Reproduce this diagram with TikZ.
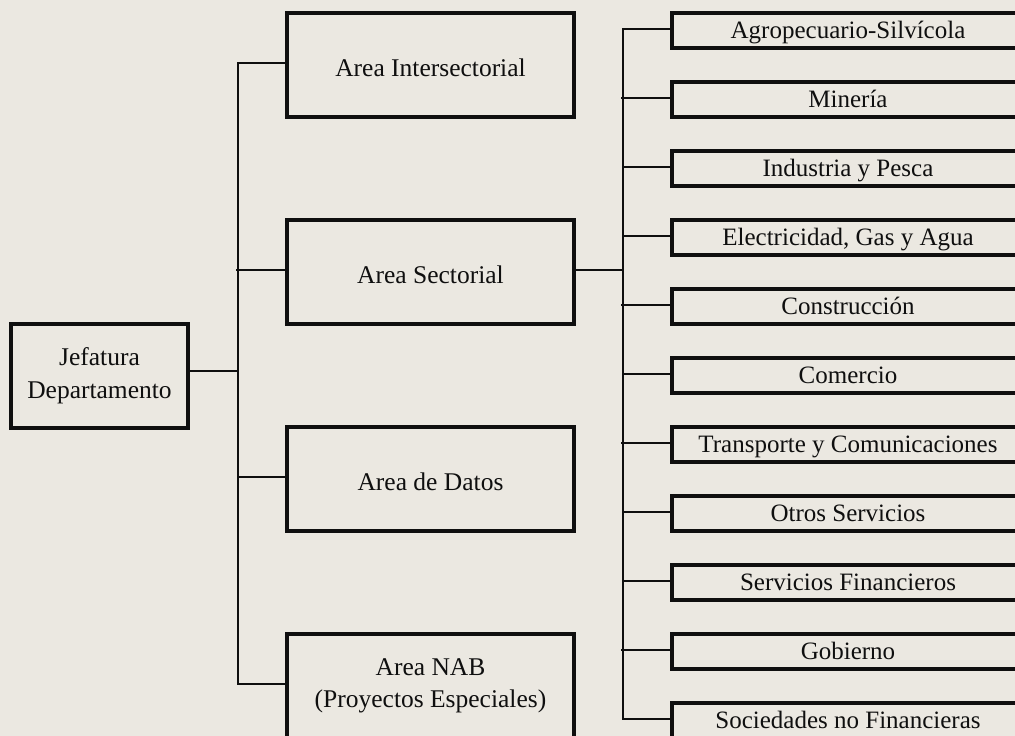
\documentclass[tikz,border=0pt]{standalone}
\usepackage{fontspec}
\setmainfont{Liberation Serif}
\definecolor{bg}{RGB}{235,232,225}
\definecolor{ink}{RGB}{15,15,15}
\begin{document}
\begin{tikzpicture}[x=1pt,y=-1pt,
  box/.style={draw=ink, line width=3.1pt, inner sep=0pt, text=ink, align=center},
  midbox/.style={box, minimum width=287pt, minimum height=104pt, font=\fontsize{25.5}{32}\selectfont},
  oneline/.style={text height=22pt, text depth=0pt},
  subbox/.style={box, minimum width=352pt, minimum height=35pt, font=\fontsize{25}{30}\selectfont, text height=16pt, text depth=0pt},
  conn/.style={draw=ink, line width=2pt}]
\useasboundingbox (0,0) rectangle (1015,736);
\fill[bg] (0,0) rectangle (1015,736);
\clip (0,0) rectangle (1015,736);

% bus coordinates
\coordinate (LB) at (238,0);
\coordinate (LBs) at (236,0);
\coordinate (RB) at (623,0);
\coordinate (RBs) at (621,0);

% left box
\node[midbox, minimum width=177pt, font=\fontsize{25.5}{33}\selectfont] (J) at (99.5,376) {Jefatura\\Departamento};

% middle boxes
\node[midbox, oneline] (I) at (430.5,65) {Area Intersectorial};
\node[midbox, oneline] (S) at (430.5,272) {Area Sectorial};
\node[midbox, oneline] (D) at (430.5,479) {Area de Datos};
\node[midbox] (N) at (430.5,686) {Area NAB\\(Proyectos Especiales)};

% right boxes
\foreach \t [count=\i] in {Agropecuario-Silvícola, Minería, Industria y Pesca, {Electricidad, Gas y Agua}, Construcción, Comercio, Transporte y Comunicaciones, Otros Servicios, Servicios Financieros, Gobierno, Sociedades no Financieras}{
  \node[subbox] (R\i) at (848,{30.5+69*(\i-1)}) {\t};
}

% left connectors
\draw[conn] ([yshift=5pt]J.east) -- ([yshift=5pt]J.east -| LB);
\draw[conn] ([yshift=2pt]I.west) -| ([yshift=2pt]N.west -| LB) -- ([yshift=2pt]N.west);
\draw[conn] ([yshift=2pt]S.west) -- ([yshift=2pt]S.west -| LBs);
\draw[conn] ([yshift=2pt]D.west) -- ([yshift=2pt]D.west -| LB);

% sectorial to right bus
\draw[conn] ([yshift=2pt]S.east) -- ([yshift=2pt]S.east -| RB);

% right bus
\draw[conn] ([yshift=1.5pt]R1.west) -| ([yshift=1.5pt]R11.west -| RB) -- ([yshift=1.5pt]R11.west);
\foreach \i in {3,4,6,8,9}{
  \draw[conn] ([yshift=1.5pt]R\i.west) -- ([yshift=1.5pt]R\i.west -| RB);
}
\foreach \i in {2,5,7,10}{
  \draw[conn] ([yshift=1.5pt]R\i.west) -- ([yshift=1.5pt]R\i.west -| RBs);
}

% small thick mark on the top edge of Construcción box
\draw[ink, line width=3.8pt] (868,289.5) -- (917,289.5);
\end{tikzpicture}
\end{document}
